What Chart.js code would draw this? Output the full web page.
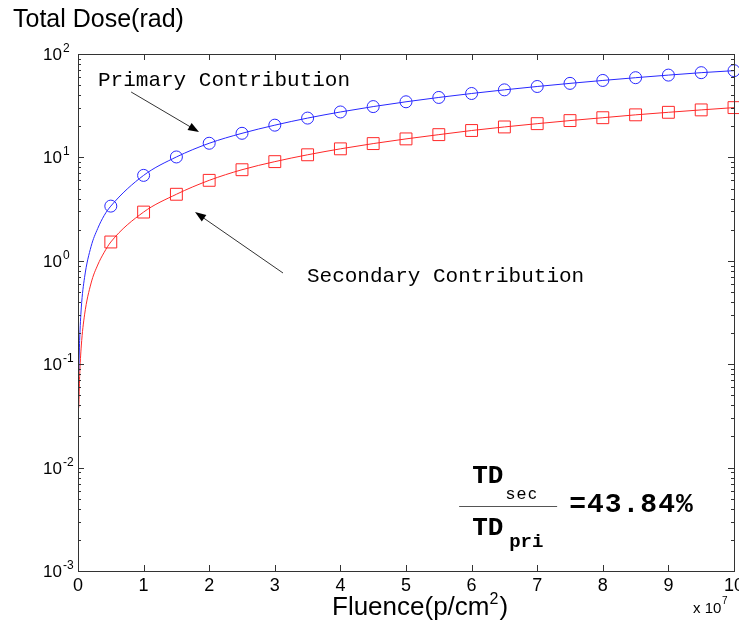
<!DOCTYPE html>
<html>
<head>
<meta charset="utf-8">
<script src="https://cdn.jsdelivr.net/npm/chart.js@4"></script>
<style>
  html, body { margin: 0; padding: 0; background: #fff; }
  #wrap { width: 739px; height: 625px; }
</style>
</head>
<body>
<div id="wrap"><canvas id="doseChart" width="739" height="625"></canvas></div>
<script>
/* ============================
   Dose data (fluence in 1e7 p/cm^2)
============================ */
// steep start near zero, no markers
const curveFluence   = [0.012, 0.025, 0.05, 0.1, 0.2, 0.3, 0.4];
const curvePrimary   = [0.085, 0.17, 0.35, 0.69, 1.38, 2.05, 2.75];
const curveSecondary = [0.038, 0.076, 0.15, 0.30, 0.61, 0.91, 1.21];

// marked points every 0.5
const markerFluence = [0.5, 1, 1.5, 2, 2.5, 3, 3.5, 4, 4.5, 5,
                       5.5, 6, 6.5, 7, 7.5, 8, 8.5, 9, 9.5, 10];
const primaryDose   = [3.38, 6.7, 10.1, 13.7, 17.1, 20.5, 24.0, 27.5, 31.0, 34.5,
                       38.0, 41.5, 45.0, 48.5, 52.0, 55.5, 59.0, 62.5, 66.0, 69.0];
const secondaryDose = [1.52, 2.96, 4.4, 6.0, 7.6, 9.1, 10.6, 12.1, 13.6, 15.1,
                       16.6, 18.2, 19.7, 21.2, 22.7, 24.2, 25.8, 27.3, 28.8, 30.3];

const xTicks = [0, 1, 2, 3, 4, 5, 6, 7, 8, 9, 10];
const yDecades = [-3, -2, -1, 0, 1, 2];
const ratioText = '=43.84%';

const SANS = '"Liberation Sans", Arial, sans-serif';
const MONO = '"Liberation Mono", "Courier New", monospace';

/* ============================
   Helpers
============================ */
function buildPoints(cx, cy, mx, my) {
    const pts = [];
    cx.forEach((x, i) => pts.push({ x: x, y: cy[i] }));
    mx.forEach((x, i) => pts.push({ x: x, y: my[i] }));
    return pts;
}

function markerRadius(r) {
    return curveFluence.map(() => 0).concat(markerFluence.map(() => r));
}

function arrow(ctx, x1, y1, x2, y2) {
    const ang = Math.atan2(y2 - y1, x2 - x1);
    const len = 11, half = 4;
    ctx.strokeStyle = '#333';
    ctx.lineWidth = 1;
    ctx.beginPath();
    ctx.moveTo(x1, y1);
    ctx.lineTo(x2 - Math.cos(ang) * len * 0.8, y2 - Math.sin(ang) * len * 0.8);
    ctx.stroke();
    ctx.fillStyle = '#000';
    ctx.beginPath();
    ctx.moveTo(x2, y2);
    ctx.lineTo(x2 - Math.cos(ang) * len - Math.sin(ang) * half,
               y2 - Math.sin(ang) * len + Math.cos(ang) * half);
    ctx.lineTo(x2 - Math.cos(ang) * len + Math.sin(ang) * half,
               y2 - Math.sin(ang) * len - Math.cos(ang) * half);
    ctx.closePath();
    ctx.fill();
}

/* ============================
   Frame, ticks and text labels
============================ */
const decorPlugin = {
    id: 'decor',
    afterDraw(chart) {
        const ctx = chart.ctx;
        const a = chart.chartArea;
        const xs = chart.scales.x;
        const ys = chart.scales.y;
        ctx.save();

        // axes box
        ctx.strokeStyle = '#333';
        ctx.lineWidth = 1;
        ctx.strokeRect(Math.round(a.left) + 0.5, Math.round(a.top) + 0.5,
                       Math.round(a.right - a.left), Math.round(a.bottom - a.top));

        // inward ticks
        ctx.beginPath();
        xTicks.forEach(v => {
            const px = Math.round(xs.getPixelForValue(v)) + 0.5;
            ctx.moveTo(px, a.bottom); ctx.lineTo(px, a.bottom - 6);
            ctx.moveTo(px, a.top);    ctx.lineTo(px, a.top + 6);
        });
        yDecades.forEach(d => {
            for (let k = 1; k <= 9; k++) {
                const v = k * Math.pow(10, d);
                if (d === 2 && k > 1) break;
                const py = Math.round(ys.getPixelForValue(v)) + 0.5;
                const len = k === 1 ? 6 : 3;
                ctx.moveTo(a.left, py);  ctx.lineTo(a.left + len, py);
                ctx.moveTo(a.right, py); ctx.lineTo(a.right - len, py);
            }
        });
        ctx.stroke();

        ctx.fillStyle = '#000';
        ctx.textBaseline = 'alphabetic';

        // x tick labels
        ctx.font = '18px ' + SANS;
        ctx.textAlign = 'center';
        xTicks.forEach(v => {
            ctx.fillText(String(v), xs.getPixelForValue(v), a.bottom + 20);
        });

        // y tick labels 10^n
        yDecades.forEach(d => {
            const py = ys.getPixelForValue(Math.pow(10, d));
            ctx.font = '17px ' + SANS;
            ctx.textAlign = 'right';
            ctx.fillText('10', a.left - 16, py + 6);
            ctx.font = '12px ' + SANS;
            ctx.textAlign = 'left';
            ctx.fillText(d < 0 ? '-' + (-d) : String(d), a.left - 15, py - 2);
        });

        // titles
        ctx.textAlign = 'left';
        ctx.font = '25px ' + SANS;
        ctx.fillText('Total Dose(rad)', 13, 27);

        ctx.font = '26px ' + SANS;
        const base = 'Fluence(p/cm';
        const fx = 332;
        ctx.fillText(base, fx, 615);
        let w = ctx.measureText(base).width;
        ctx.font = '16px ' + SANS;
        ctx.fillText('2', fx + w, 604);
        w += ctx.measureText('2').width + 1;
        ctx.font = '26px ' + SANS;
        ctx.fillText(')', fx + w, 615);

        ctx.font = '15px ' + SANS;
        ctx.fillText('x 10', 693, 613);
        ctx.font = '10px ' + SANS;
        ctx.fillText('7', 722, 604);

        // annotations
        ctx.font = '21px ' + MONO;
        ctx.fillText('Primary Contribution',
                     xs.getPixelForValue(0.305), ys.getPixelForValue(49));
        ctx.fillText('Secondary Contribution',
                     xs.getPixelForValue(3.49), ys.getPixelForValue(0.624));

        arrow(ctx, xs.getPixelForValue(0.81), ys.getPixelForValue(42.9),
                   xs.getPixelForValue(1.845), ys.getPixelForValue(17.6));
        arrow(ctx, xs.getPixelForValue(3.125), ys.getPixelForValue(0.762),
                   xs.getPixelForValue(1.784), ys.getPixelForValue(2.96));

        // TD_sec / TD_pri ratio
        const rx = xs.getPixelForValue(5.81);
        const ry = ys.getPixelForValue(0.00425);
        ctx.strokeStyle = '#555';
        ctx.beginPath();
        ctx.moveTo(rx, Math.round(ry) + 0.5);
        ctx.lineTo(rx + 98, Math.round(ry) + 0.5);
        ctx.stroke();

        ctx.font = 'bold 26px ' + MONO;
        ctx.fillText('TD', rx + 13, ry - 23);
        ctx.fillText('TD', rx + 13, ry + 29);
        ctx.save();
        ctx.font = '17px ' + SANS;
        ctx.letterSpacing = '2px';
        ctx.fillText('sec', rx + 47, ry - 7);
        ctx.restore();
        ctx.font = 'bold 19px ' + MONO;
        ctx.fillText('pri', rx + 50, ry + 41);

        ctx.save();
        ctx.font = 'bold 28px ' + MONO;
        ctx.letterSpacing = '1px';
        ctx.fillText(ratioText, rx + 110, ry + 6);
        ctx.restore();

        ctx.restore();
    }
};

/* ============================
   Chart
============================ */
const doseContext = document.getElementById('doseChart').getContext('2d');

new Chart(doseContext, {
    type: 'line',
    data: {
        datasets: [
            {
                label: 'Primary Contribution',
                data: buildPoints(curveFluence, curvePrimary, markerFluence, primaryDose),
                borderColor: 'rgb(40,40,255)',
                backgroundColor: 'rgba(0,0,0,0)',
                borderWidth: 1,
                pointStyle: 'circle',
                pointRadius: markerRadius(6),
                pointBorderWidth: 1,
                cubicInterpolationMode: 'monotone',
                clip: false
            },
            {
                label: 'Secondary Contribution',
                data: buildPoints(curveFluence, curveSecondary, markerFluence, secondaryDose),
                borderColor: 'rgb(255,40,40)',
                backgroundColor: 'rgba(0,0,0,0)',
                borderWidth: 1,
                pointStyle: 'rect',
                pointRadius: markerRadius(8.4),
                pointBorderWidth: 1,
                cubicInterpolationMode: 'monotone',
                clip: false
            }
        ]
    },
    options: {
        responsive: false,
        animation: false,
        events: [],
        layout: {
            autoPadding: false,
            padding: { left: 0, top: 54, right: 5, bottom: 0 }
        },
        plugins: {
            legend: { display: false },
            tooltip: { enabled: false }
        },
        scales: {
            x: {
                type: 'linear',
                min: 0,
                max: 10,
                grid: { display: false },
                border: { display: false },
                ticks: { display: false },
                afterFit: scale => {
                    scale.height = 54;
                }
            },
            y: {
                type: 'logarithmic',
                min: 1e-3,
                max: 1e2,
                grid: { display: false },
                border: { display: false },
                ticks: { display: false },
                afterFit: scale => {
                    scale.width = 78;
                }
            }
        }
    },
    plugins: [decorPlugin]
});
</script>
</body>
</html>
